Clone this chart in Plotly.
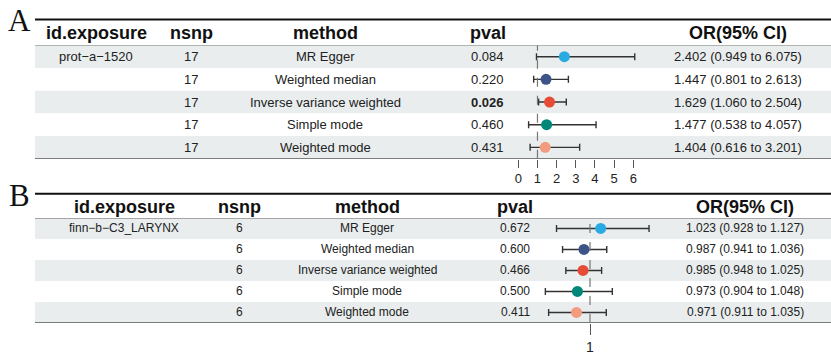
import plotly.graph_objects as go

W, H = 831, 355

methods = ["MR Egger", "Weighted median", "Inverse variance weighted",
           "Simple mode", "Weighted mode"]
colors = ["#29ABE2", "#3C5488", "#E64B35", "#00877A", "#F39B7F"]
headers = ["id.exposure", "nsnp", "method", "pval", "OR(95% CI)"]

# Panel A
a_exposure = ["prot\u2212a\u22121520", "", "", "", ""]
a_nsnp = [17, 17, 17, 17, 17]
a_pval = ["0.084", "0.220", "0.026", "0.460", "0.431"]
a_or = [2.402, 1.447, 1.629, 1.477, 1.404]
a_lo = [0.949, 0.801, 1.060, 0.538, 0.616]
a_hi = [6.075, 2.613, 2.504, 4.057, 3.201]
a_ticks = [0, 1, 2, 3, 4, 5, 6]

# Panel B
b_exposure = ["finn\u2212b\u2212C3_LARYNX", "", "", "", ""]
b_nsnp = [6, 6, 6, 6, 6]
b_pval = ["0.672", "0.600", "0.466", "0.500", "0.411"]
b_or = [1.023, 0.987, 0.985, 0.973, 0.971]
b_lo = [0.928, 0.941, 0.948, 0.904, 0.911]
b_hi = [1.127, 1.036, 1.025, 1.048, 1.035]
b_ticks = [1]

FONT = "Liberation Sans, Arial, sans-serif"


def fx(px):
    return px / W


def fy(py):
    return 1 - py / H


fig = go.Figure()
shapes = []
annotations = []

panels = [
    dict(letter="A", letter_y=21, top=20, head_y=34, row_top=46.7, row_bot=163.3,
         cols=[96, 191, 325, 488, 737.5], dom=(500, 660), x_at=(518.3, 0.0),
         unit=19.17, body=13, ticks=a_ticks, ticklen=8, tickfont=13,
         exp=a_exposure, nsnp=a_nsnp, pval=a_pval, orv=a_or, lo=a_lo, hi=a_hi,
         xa="x", ya="y"),
    dict(letter="B", letter_y=201, top=199.3, head_y=213, row_top=224.3, row_bot=332.3,
         cols=[124, 239, 367, 515, 745], dom=(540, 660), x_at=(590.0, 1.0),
         unit=465.0, body=12, ticks=b_ticks, ticklen=11, tickfont=14,
         exp=b_exposure, nsnp=b_nsnp, pval=b_pval, orv=b_or, lo=b_lo, hi=b_hi,
         xa="x2", ya="y2"),
]

layout_axes = {}
for k, p in enumerate(panels):
    sfx = "" if k == 0 else str(k + 1)
    px0, v0 = p["x_at"]
    rng = [v0 + (p["dom"][0] - px0) / p["unit"], v0 + (p["dom"][1] - px0) / p["unit"]]
    layout_axes["xaxis" + sfx] = dict(
        domain=[fx(p["dom"][0]), fx(p["dom"][1])], range=rng, anchor=p["ya"],
        tickvals=p["ticks"], ticks="outside", ticklen=p["ticklen"], tickwidth=1.2,
        tickcolor="#555", showline=False, showgrid=False, zeroline=False,
        tickfont=dict(size=p["tickfont"], color="#222", family=FONT), fixedrange=True)
    layout_axes["yaxis" + sfx] = dict(
        domain=[fy(p["row_bot"]), fy(p["row_top"])], range=[5.5, 0.5], anchor=p["xa"],
        visible=False, fixedrange=True)

    # row shading
    for i in (1, 3, 5):
        shapes.append(dict(type="rect", xref="paper", yref=p["ya"], x0=fx(35), x1=1,
                           y0=i - 0.5, y1=i + 0.5, fillcolor="#E9EDEE",
                           line=dict(width=0), layer="below"))
    # lines
    shapes.append(dict(type="line", xref="paper", yref="paper", x0=fx(35), x1=1,
                       y0=fy(p["top"]), y1=fy(p["top"]), line=dict(color="#111", width=2)))
    shapes.append(dict(type="line", xref="paper", yref=p["ya"], x0=fx(35), x1=1,
                       y0=0.5, y1=0.5, line=dict(color="#555", width=1)))
    shapes.append(dict(type="line", xref="paper", yref=p["ya"], x0=fx(35), x1=1,
                       y0=5.5, y1=5.5, line=dict(color="#555", width=1.5)))
    # reference line at OR = 1
    shapes.append(dict(type="line", xref=p["xa"], yref=p["ya"] + " domain", x0=1, x1=1,
                       y0=0, y1=1, line=dict(color="#777", width=1.2, dash="dash")))

    # letter
    annotations.append(dict(text=p["letter"], xref="paper", yref="paper", x=fx(19),
                            y=fy(p["letter_y"]), showarrow=False, xanchor="center",
                            yanchor="middle",
                            font=dict(family="Liberation Serif, Times New Roman, serif",
                                      size=31, color="#111")))
    # headers
    for c, htxt in enumerate(headers):
        annotations.append(dict(text="<b>%s</b>" % htxt, xref="paper", yref="paper",
                                x=fx(p["cols"][c]), y=fy(p["head_y"]), showarrow=False,
                                xanchor="center", yanchor="middle",
                                font=dict(family=FONT, size=18, color="#111")))
    # rows
    for i in range(5):
        pv = p["pval"][i]
        pv_txt = "<b>%s</b>" % pv if float(pv) < 0.05 else pv
        or_txt = "%.3f (%.3f to %.3f)" % (p["orv"][i], p["lo"][i], p["hi"][i])
        cells = [p["exp"][i], str(p["nsnp"][i]), methods[i], pv_txt, or_txt]
        for c, t in enumerate(cells):
            if not t:
                continue
            annotations.append(dict(text=t, xref="paper", yref=p["ya"],
                                    x=fx(p["cols"][c]), y=i + 1, showarrow=False,
                                    xanchor="center", yanchor="middle",
                                    font=dict(family=FONT, size=p["body"], color="#222")))

    # forest points
    fig.add_trace(go.Scatter(
        x=p["orv"], y=[1, 2, 3, 4, 5], mode="markers", xaxis=p["xa"], yaxis=p["ya"],
        marker=dict(size=11, color=colors, line=dict(width=0)),
        error_x=dict(type="data", symmetric=False,
                     array=[h - o for h, o in zip(p["hi"], p["orv"])],
                     arrayminus=[o - l for o, l in zip(p["orv"], p["lo"])],
                     color="#333", thickness=1.4, width=3.5),
        showlegend=False, hoverinfo="skip"))

fig.update_layout(
    width=W, height=H, margin=dict(l=0, r=0, t=0, b=0),
    paper_bgcolor="white", plot_bgcolor="rgba(0,0,0,0)",
    shapes=shapes, annotations=annotations, showlegend=False,
    **layout_axes)

fig.write_html("out.html")
